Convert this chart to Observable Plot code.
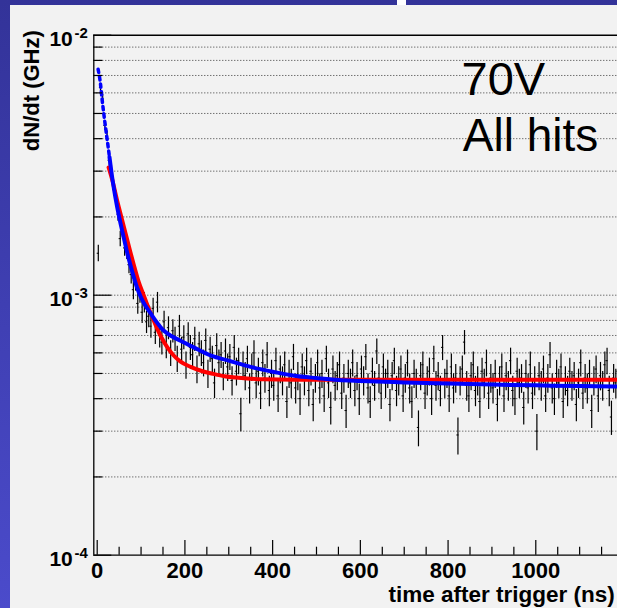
<!DOCTYPE html>
<html><head><meta charset="utf-8">
<script src="https://cdn.jsdelivr.net/npm/d3@7"></script>
<script src="https://cdn.jsdelivr.net/npm/@observablehq/plot@0.6"></script>
<style>
html,body{margin:0;padding:0;overflow:hidden;background:#333399;}
#wrap{position:relative;width:617px;height:608px;background:linear-gradient(to bottom,#333399,#4b4bcb);}
#panel{position:absolute;left:10px;top:5px;width:607px;height:603px;background:#f2f2f2;}
#gap{position:absolute;left:397px;top:0;width:9px;height:5px;background:#ffffff;}
#chart{position:absolute;left:0;top:0;}
</style></head><body>
<div id="wrap"><div id="panel"></div><div id="gap"></div><div id="chart"></div></div>
<script>
// Histogram: 5 ns bins starting at 0 ns; rates in units of 1e-4 GHz
const binStart = 0;
const binWidth = 5;
const rates = [
 14.5, 63, 57, 45, 41, 33, 30, 25.5, 23.8, 20.5,
 16.5, 17.8, 15.2, 14.8, 13.1, 12.0, 10.5, 11.3, 9.3, 10.2,
 8.6, 9.4, 7.9, 8.3, 7.6, 8.9, 7.2, 9.4, 7.0, 6.6,
 7.9, 6.4, 7.5, 6.0, 7.3, 6.8, 5.7, 7.6, 6.2, 6.9,
 5.4, 7.1, 6.3, 5.9, 6.8, 5.2, 6.5, 6.0, 5.5, 6.7,
 5.0, 6.2, 5.7, 4.6, 6.4, 5.5, 5.9, 4.9, 6.1, 5.3,
 5.8, 4.7, 6.3, 5.1, 5.6, 3.5, 5.4, 4.9, 5.7, 4.4,
 5.3, 6.0, 4.6, 5.1, 4.2, 5.5, 4.8, 5.9, 4.3, 5.0,
 4.5, 5.6, 4.1, 5.2, 4.7, 5.4, 3.9, 5.0, 4.6, 5.8,
 4.4, 4.9, 4.0, 5.3, 4.7, 5.6, 4.3, 5.1, 3.8, 4.8,
 5.5, 4.4, 5.0, 4.1, 5.7, 4.6, 3.7, 5.2, 4.5, 4.9,
 5.4, 4.2, 4.8, 3.6, 5.0, 4.6, 5.5, 4.3, 4.9, 4.0,
 5.2, 4.7, 5.8, 4.4, 3.9, 5.1, 4.5, 6.1, 4.8, 4.2,
 5.3, 4.6, 5.0, 3.8, 4.9, 5.6, 4.3, 4.7, 5.2, 4.1,
 4.8, 5.5, 4.4, 3.9, 5.0, 4.6, 3.1, 4.9, 5.4, 4.2,
 4.7, 5.1, 4.0, 5.7, 4.5, 4.9, 4.3, 6.3, 4.6, 5.0,
 4.1, 5.3, 4.4, 4.8, 2.9, 4.7, 5.2, 6.6, 4.5, 4.1,
 4.9, 5.4, 4.3, 4.7, 3.9, 5.1, 4.6, 5.5, 4.2, 4.8,
 4.4, 5.0, 3.8, 4.7, 5.3, 4.1, 4.9, 4.5, 5.6, 4.3,
 4.0, 5.1, 4.6, 4.8, 3.7, 5.0, 4.4, 5.4, 4.2, 4.7,
 3.0, 4.9, 4.5, 5.2, 4.1, 4.8, 5.9, 4.4, 4.0, 5.0,
 4.6, 5.3, 3.9, 4.7, 4.3, 5.1, 4.5, 4.9, 3.8, 4.6,
 5.5, 4.2, 4.8, 4.4, 5.0, 3.6, 4.7, 5.2, 4.1, 4.9,
 4.5, 5.4, 5.6, 4.3, 3.4, 4.8, 4.6, 5.1
];
const rateUnit = 1e-4;          // GHz
const countsPerGHz = 1.3e5;     // Poisson scale for error bars

// Fit curves, rates in 1e-4 GHz
const blueFitT = [2, 7.5, 11, 16.5, 22.5, 28, 34, 41.5, 50, 60, 70, 80, 90, 100, 110, 120, 135, 150, 170, 190, 220, 260, 300, 350, 400, 450, 500, 550, 600, 700, 800, 900, 1000, 1100, 1190];
const blueFitV = [74, 65, 57, 47.7, 40, 34, 28.5, 23.8, 20, 16.8, 14.2, 12.3, 10.8, 9.8, 9.1, 8.6, 7.9, 7.35, 6.95, 6.68, 6.3, 5.85, 5.6, 5.3, 5.08, 4.9, 4.8, 4.72, 4.68, 4.62, 4.57, 4.53, 4.5, 4.47, 4.45];
const blueDottedUntil = 28;
const redFitT = [26, 35, 45, 55, 65, 75, 85, 95, 105, 115, 125, 135, 145, 160, 175, 190, 213, 240, 265, 290, 316, 342, 380, 450, 600, 1190];
const redFitV = [31, 27.5, 23.3, 20, 17.2, 14.8, 12.8, 11.2, 10.1, 9.1, 8.3, 7.55, 6.95, 6.3, 5.85, 5.55, 5.3, 5.1, 4.98, 4.88, 4.82, 4.78, 4.75, 4.73, 4.73, 4.73];

// Axes
const xDomain = [-7.75, 1186.3];
const xMajorTicks = [0, 200, 400, 600, 800, 1000];
const xMinorTicks = [50, 100, 150, 250, 300, 350, 450, 500, 550, 650, 700, 750, 850, 900, 950, 1050, 1100, 1150];
const yMajorTicks = [1e-4, 1e-3, 1e-2];
const yExponents = ["-4", "-3", "-2"];
const yMinorTicks = [2e-4, 3e-4, 4e-4, 5e-4, 6e-4, 7e-4, 8e-4, 9e-4, 2e-3, 3e-3, 4e-3, 5e-3, 6e-3, 7e-3, 8e-3, 9e-3];
const yGridLines = [2e-4, 3e-4, 4e-4, 5e-4, 6e-4, 7e-4, 8e-4, 9e-4, 1e-3, 2e-3, 3e-3, 4e-3, 5e-3, 6e-3, 7e-3, 8e-3, 9e-3];
const xTitle = "time after trigger (ns)";
const yTitle = "dN/dt (GHz)";
const labelLine1 = "70V";
const labelLine2 = "All hits";

const data = rates.map((r, i) => {
  const v = r * rateUnit;
  const err = Math.sqrt(v * countsPerGHz) / countsPerGHz;
  const t0 = binStart + binWidth * i;
  return {t: t0 + binWidth / 2, x1: t0, x2: t0 + binWidth, v, lo: v - err, hi: v + err};
});
const blueFit = blueFitT.map((t, i) => ({t, v: blueFitV[i] * rateUnit}));
const redFit = redFitT.map((t, i) => ({t, v: redFitV[i] * rateUnit}));
const blueDotted = blueFit.filter(d => d.t <= blueDottedUntil);
const blueSolid = blueFit.filter(d => d.t >= blueDottedUntil);

const W = 617, H = 608, mL = 93.3, mT = 34.7, mB = 53.3, mR = 0;
const frameW = W - mL - mR, frameH = H - mT - mB;
const font = "'Liberation Sans', Arial, Helvetica, sans-serif";

const chart = Plot.plot({
  width: W, height: H,
  marginLeft: mL, marginTop: mT, marginBottom: mB, marginRight: mR,
  style: {background: "transparent", fontFamily: font, overflow: "visible"},
  x: {domain: xDomain, axis: null},
  y: {type: "log", domain: [1e-4, 1e-2], axis: null},
  marks: [
    Plot.ruleY(yGridLines, {y: d => d, stroke: "#3a3a3a", strokeWidth: 1, strokeDasharray: "1,2"}),
    Plot.ruleX(data, {x: "t", y1: "lo", y2: "hi", stroke: "#000", strokeWidth: 1.2}),
    Plot.ruleY(data, {y: "v", x1: "x1", x2: "x2", stroke: "#000", strokeWidth: 1}),
    Plot.line(redFit, {x: "t", y: "v", stroke: "#ff0000", strokeWidth: 4, curve: "monotone-x"}),
    Plot.line(blueSolid, {x: "t", y: "v", stroke: "#0000ff", strokeWidth: 4, curve: "monotone-x"}),
    Plot.line(blueDotted, {x: "t", y: "v", stroke: "#0000ff", strokeWidth: 3.5, strokeDasharray: "3.5,4", curve: "monotone-x"}),
    // frame lines
    Plot.ruleY([1e-4], {y: d => d, stroke: "#000", strokeWidth: 1.3}),
    Plot.ruleY([1e-2], {y: d => d, stroke: "#000", strokeWidth: 1.5}),
    Plot.ruleX([xDomain[0]], {x: d => d, stroke: "#000", strokeWidth: 1.3}),
    // ticks (inward)
    Plot.tickX(xMajorTicks, {x: d => d, insetTop: frameH - 14.7, stroke: "#000", strokeWidth: 1.2}),
    Plot.tickX(xMinorTicks, {x: d => d, insetTop: frameH - 8, stroke: "#000", strokeWidth: 1.2}),
    Plot.tickY(yMajorTicks, {y: d => d, insetRight: frameW - 18, stroke: "#000", strokeWidth: 1.2}),
    Plot.tickY(yMinorTicks, {y: d => d, insetRight: frameW - 9, stroke: "#000", strokeWidth: 1.2}),
    // tick labels
    Plot.text(xMajorTicks, {x: d => d, text: d => String(d), frameAnchor: "bottom", lineAnchor: "top", dy: 7, fontSize: 22, fontWeight: "bold", fill: "#000"}),
    Plot.text(yMajorTicks, {y: d => d, text: () => "10", frameAnchor: "left", textAnchor: "end", lineAnchor: "bottom", dx: -21, dy: 11, fontSize: 21, fontWeight: "bold", fill: "#000"}),
    Plot.text(yMajorTicks, {y: d => d, text: (d, i) => yExponents[i], frameAnchor: "left", textAnchor: "end", lineAnchor: "bottom", dx: -6, dy: 3, fontSize: 15, fontWeight: "bold", fill: "#000"}),
    // axis titles
    Plot.text([xTitle], {frameAnchor: "bottom-right", textAnchor: "end", lineAnchor: "bottom", dx: -2.7, dy: 47, fontSize: 22.5, fontWeight: "bold", fill: "#000"}),
    Plot.text([yTitle], {frameAnchor: "top-left", rotate: -90, textAnchor: "end", lineAnchor: "bottom", dx: -54.6, dy: -5, fontSize: 22, fontWeight: "bold", fill: "#000"}),
    // annotation
    Plot.text([labelLine1], {frameAnchor: "top-left", textAnchor: "start", lineAnchor: "bottom", dx: 367.7, dy: 59.3, fontSize: 47, fill: "#000"}),
    Plot.text([labelLine2], {frameAnchor: "top-left", textAnchor: "start", lineAnchor: "bottom", dx: 369, dy: 116, fontSize: 46, fill: "#000"})
  ]
});
document.getElementById("chart").appendChild(chart);
</script>
</body></html>
